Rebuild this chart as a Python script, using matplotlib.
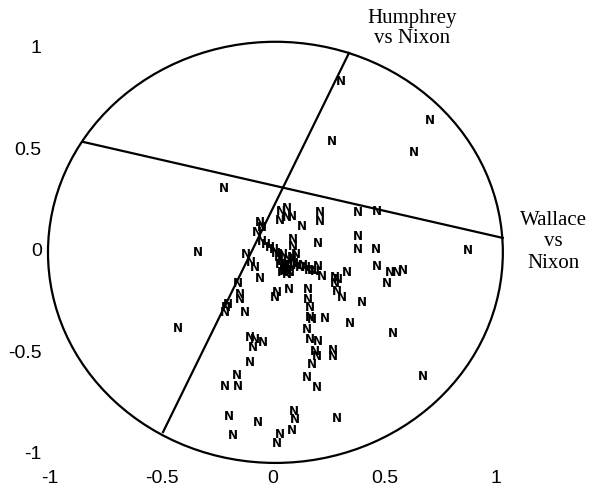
import matplotlib

matplotlib.use("Agg")
import matplotlib.pyplot as plt
from matplotlib.patches import Ellipse

# vote positions of the "N" cases
n_x = [
    -0.220, 0.305, 0.704, 0.265, 0.632, -0.336, -0.426, 0.874, 0.673, 0.287, 0.538,
    0.036, 0.063, 0.031, 0.063, 0.085, 0.130, 0.211, 0.211, 0.202, -0.058, -0.072,
    -0.049, 0.381, 0.466, 0.381, 0.381, 0.462, 0.466, 0.525, 0.556, 0.583, 0.511,
    0.202, 0.220, 0.278, 0.332, 0.291,
    -0.049, -0.031, -0.013, 0.004, 0.013, 0.027, 0.040, 0.049, 0.058, 0.067, 0.081,
    0.094, 0.108, 0.121, 0.135, 0.148, 0.161, 0.175, 0.188, 0.049, 0.063, 0.076,
    0.090, 0.090, 0.103, 0.085, 0.067, 0.031, 0.045,
    -0.121, -0.099, -0.081, -0.058, -0.157, -0.148, -0.148, -0.211, -0.215, -0.202,
    -0.126, 0.018, 0.009, 0.040, 0.072, 0.157, 0.157, 0.166, 0.166, 0.175, 0.233,
    0.152, 0.166, 0.202, 0.188, 0.269, 0.269, 0.278, 0.287, 0.309, 0.399, 0.345,
    -0.103, -0.081, -0.045, -0.090, -0.103, -0.161, -0.157, -0.215, 0.175, 0.197,
    0.152, 0.197, -0.197, -0.067, -0.179, 0.094, 0.099, 0.085, 0.031, 0.018,
]
n_y = [
    0.300, 0.828, 0.635, 0.532, 0.478, -0.015, -0.389, -0.005, -0.621, -0.828, -0.414,
    0.187, 0.202, 0.143, 0.158, 0.163, 0.113, 0.182, 0.138, 0.034, 0.133, 0.084,
    0.108, 0.182, 0.187, 0.064, 0.000, 0.000, -0.084, -0.113, -0.113, -0.103, -0.163,
    -0.084, -0.133, -0.138, -0.113, -0.148,
    0.039, 0.025, 0.010, 0.000, -0.020, -0.039, -0.059, -0.079, -0.099, -0.089, -0.079,
    -0.069, -0.079, -0.089, -0.079, -0.089, -0.099, -0.099, -0.108, -0.108, -0.123, -0.113,
    0.049, 0.015, -0.025, -0.039, -0.049, -0.074, -0.025,
    -0.025, -0.064, -0.089, -0.143, -0.163, -0.222, -0.246, -0.286, -0.310, -0.271,
    -0.310, -0.212, -0.232, -0.113, -0.197, -0.197, -0.246, -0.286, -0.335, -0.345, -0.340,
    -0.394, -0.443, -0.453, -0.502, -0.493, -0.527, -0.163, -0.207, -0.236, -0.261, -0.360,
    -0.429, -0.443, -0.458, -0.483, -0.552, -0.616, -0.675, -0.675, -0.562, -0.527,
    -0.626, -0.680, -0.818, -0.852, -0.916, -0.798, -0.837, -0.887, -0.911, -0.951,
]

# the two vote axes drawn through the circle
wallace_x = [-0.852, 1.031]
wallace_y = [0.532, 0.059]
humphrey_x = [-0.493, 0.341]
humphrey_y = [-0.897, 0.970]

ticks = [-1, -0.5, 0, 0.5, 1]
tick_labels = ["-1", "-0.5", "0", "0.5", "1"]


def main():
    fig = plt.figure(figsize=(5.91, 4.92), dpi=100)
    ax = fig.add_axes([0.0778, 0.0529, 0.7851, 0.8659])
    ax.set_xlim(-1.018, 1.063)
    ax.set_ylim(-1.064, 1.034)

    ax.add_patch(Ellipse((0.011, -0.012), 2.04, 2.074, fill=False,
                         edgecolor="black", linewidth=1.6, clip_on=False))
    ax.plot(wallace_x, wallace_y, color="black", linewidth=1.6, clip_on=False)
    ax.plot(humphrey_x, humphrey_y, color="black", linewidth=1.6, clip_on=False)

    for x, y in zip(n_x, n_y):
        ax.text(x, y, "N", ha="center", va="center", fontsize=8.5,
                fontweight="bold", family=["Liberation Sans Narrow", "DejaVu Sans"])

    ax.text(0.623, 1.091, "Humphrey\nvs Nixon", ha="center", va="center",
            fontsize=15, family="Liberation Serif", linespacing=1.05, clip_on=False)
    ax.text(1.256, 0.039, "Wallace\nvs\nNixon", ha="center", va="center",
            fontsize=15, family="Liberation Serif", linespacing=1.15, clip_on=False)

    ax.set_xticks(ticks)
    ax.set_xticklabels(tick_labels)
    ax.set_yticks(ticks)
    ax.set_yticklabels(tick_labels)
    ax.tick_params(length=0, pad=3, labelsize=14)
    for lab in ax.get_xticklabels() + ax.get_yticklabels():
        lab.set_family("Liberation Sans")
    for s in ax.spines.values():
        s.set_visible(False)

    fig.savefig("out.png", dpi=100)


if __name__ == "__main__":
    main()
